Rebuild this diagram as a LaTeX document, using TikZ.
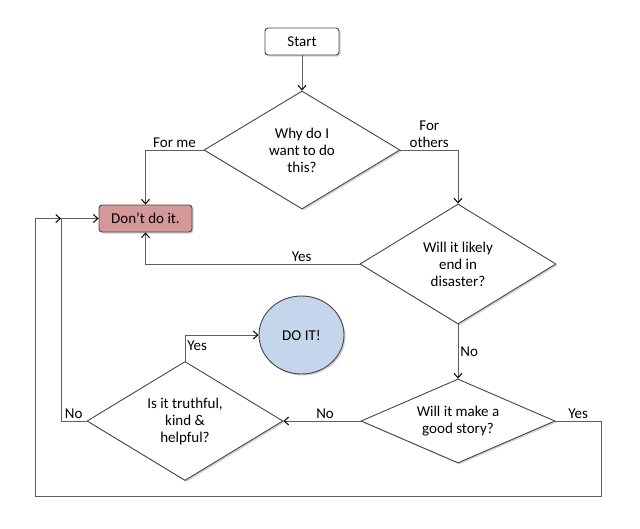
\documentclass[tikz,border=0pt]{standalone}
\usepackage{fontspec}
\setmainfont{Carlito}
\usetikzlibrary{shapes.geometric,arrows.meta,shadows}
\definecolor{linegray}{RGB}{95,95,95}
\definecolor{edgegray}{RGB}{70,70,70}
\definecolor{dontfill}{RGB}{212,152,152}
\definecolor{doitfill}{RGB}{196,213,236}
\begin{document}
\begin{tikzpicture}[x=1pt,y=-1pt,
  font=\fontsize{15}{17}\selectfont,
  shade/.style={drop shadow={shadow xshift=1.5pt,shadow yshift=-1.5pt,opacity=0.35}},
  dec/.style={diamond,draw=edgegray,line width=0.9pt,fill=white,inner sep=0pt,align=center,shade},
  boxnode/.style={rectangle,rounded corners=3pt,draw=edgegray,line width=0.9pt,inner sep=0pt,shade},
  conn/.style={draw=linegray,line width=0.9pt},
  arr/.style={conn,-{Straight Barb[length=4.5pt,width=8pt,line width=1pt,color=black]}},
  lab/.style={inner sep=2pt}]
\useasboundingbox (0,0) rectangle (640,528);
\fill[white] (0,0) rectangle (640,528);

\node[boxnode,fill=white,minimum width=74pt,minimum height=27pt] (start) at (302,41.5) {Start};
\node[dec,shape aspect=1.66,minimum width=196pt,minimum height=118pt] (d1) at (302,150) {Why do I\\want to do\\this?};
\node[boxnode,fill=dontfill,minimum width=93pt,minimum height=27pt] (dont) at (145.5,218.5) {Don’t do it.};
\node[dec,shape aspect=1.66,minimum width=196pt,minimum height=120pt] (d2) at (458,264) {Will it likely\\end in\\disaster?};
\node[dec,shape aspect=2.31,minimum width=194pt,minimum height=84pt] (d3) at (458,421) {Will it make a\\good story?};
\node[dec,shape aspect=1.66,minimum width=196pt,minimum height=119pt] (d4) at (185,421) {Is it truthful,\\kind \&\\helpful?};
\node[ellipse,draw=edgegray,line width=0.9pt,fill=doitfill,minimum width=85pt,minimum height=78pt,inner sep=0pt,shade] (doit) at (301.5,335) {DO IT!};

\coordinate (inner) at (61,218.5);
\coordinate (innerlow) at (61,421);
\coordinate (outer) at (35,218.5);
\coordinate (outerlow) at (35,496);
\coordinate (rightlow) at (601,496);
\coordinate (righttop) at (601,421);

\draw[arr] (start) -- (d1.north);
\draw[arr] (d1.west) -| node[lab,pos=0.25,above] {For me} (dont.north);
\draw[arr] (d1.east) -| node[lab,pos=0.25,above,align=center] {For\\others} (d2.north);
\draw[arr] (d2.west) -| node[lab,pos=0.135,above] {Yes} (dont.south);
\draw[arr] (d2.south) -- node[lab,right] {No} (d3.north);
\draw[arr] (d3.west) -- node[lab,pos=0.46,above] {No} (d4.east);
\draw[arr] (d4.north) |- node[lab,pos=0.29,right] {Yes} (doit.west);
\draw[conn] (d4.west) -- node[lab,pos=0.5,above] {No} (innerlow) -- (inner);
\draw[arr] (inner) -- (dont.west);
\draw[conn] (d3.east) -- node[lab,pos=0.5,above] {Yes} (righttop) -- (rightlow) -- (outerlow) -- (outer);
\draw[arr] (outer) -- (inner);
\end{tikzpicture}
\end{document}
